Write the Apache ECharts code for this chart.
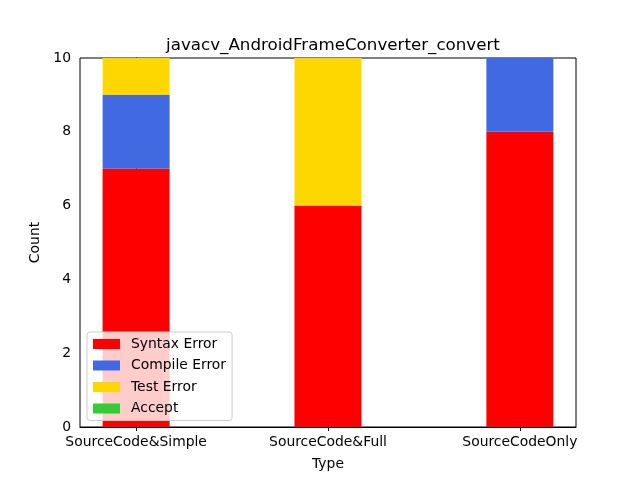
<!DOCTYPE html>
<html>
<head>
<meta charset="utf-8">
<script src="https://cdn.jsdelivr.net/npm/echarts@6/dist/echarts.min.js"></script>
<style>html,body{margin:0;padding:0;background:#fff}#c{width:640px;height:480px}</style>
</head>
<body>
<div id="c"></div>
<script>
const categories = ["SourceCode&Simple", "SourceCode&Full", "SourceCodeOnly"];
const syntaxError = [7, 6, 8];
const compileError = [2, 0, 2];
const testError = [1, 4, 0];
const accept = [0, 0, 0];
const yTicks = [0, 2, 4, 6, 8, 10];

const seriesDefs = [
  {name: "Syntax Error", values: syntaxError, color: "#ff0000"},
  {name: "Compile Error", values: compileError, color: "#4169e1"},
  {name: "Test Error", values: testError, color: "#ffd700"},
  {name: "Accept", values: accept, color: "#32cd32"}
];
const font = "DejaVu Sans";
const fs = 13.9;
const chart = echarts.init(document.getElementById('c'), null, {renderer: 'canvas'});
chart.setOption({
  animation: false,
  textStyle: {fontFamily: font},
  title: {
    text: "javacv_AndroidFrameConverter_convert",
    left: 328, top: 32, textAlign: 'center',
    textStyle: {fontFamily: font, fontSize: 16.7, fontWeight: 'normal', color: '#000'}
  },
  legend: {
    orient: 'vertical', left: 87, top: 332,
    itemWidth: 27, itemHeight: 10, itemGap: 7.5,
    padding: [5, 6, 5, 6],
    icon: 'rect',
    backgroundColor: 'rgba(255,255,255,0.8)',
    borderColor: '#cccccc', borderWidth: 1, borderRadius: 3,
    textStyle: {fontFamily: font, fontSize: fs, lineHeight: 14, color: '#000', padding: [0, 0, 0, 6]},
    data: seriesDefs.map(s => s.name)
  },
  grid: {left: 80, right: 64, top: 58, bottom: 53, show: true, borderColor: '#000', borderWidth: 1, backgroundColor: 'transparent'},
  xAxis: {
    type: 'value', min: -0.2925, max: 2.2925,
    name: 'Type', nameLocation: 'middle', nameGap: 30,
    nameTextStyle: {fontFamily: font, fontSize: fs, color: '#000'},
    axisLine: {show: true, lineStyle: {color: '#000'}},
    axisTick: {show: true, length: 4, inside: false, customValues: [0, 1, 2], lineStyle: {color: '#000'}},
    axisLabel: {customValues: [0, 1, 2], fontFamily: font, fontSize: fs, color: '#000', margin: 8,
      formatter: v => categories[Math.round(v)]},
    splitLine: {show: false}
  },
  yAxis: {
    type: 'value', min: 0, max: 10, interval: 2,
    name: 'Count', nameLocation: 'middle', nameGap: 34, nameRotate: 90,
    nameTextStyle: {fontFamily: font, fontSize: fs, color: '#000'},
    axisLine: {show: true, lineStyle: {color: '#000'}},
    axisTick: {show: true, length: 4, lineStyle: {color: '#000'}},
    axisLabel: {fontFamily: font, fontSize: fs, color: '#000', margin: 9},
    splitLine: {show: false}
  },
  series: seriesDefs.map(s => ({
    name: s.name, type: 'bar', stack: 'total', barWidth: 67,
    itemStyle: {color: s.color},
    encode: {x: 1, y: 0},
    data: s.values.map((v, i) => [v, i])
  }))
});
</script>
</body>
</html>
